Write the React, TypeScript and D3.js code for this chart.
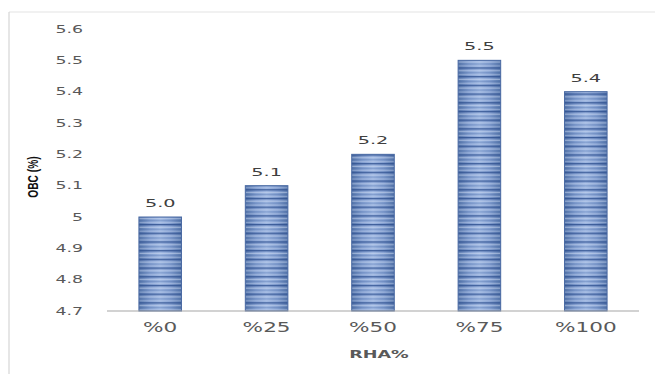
import React from "react";
import * as d3 from "d3";

// RHA replacement levels and optimum binder content
const categories = ["%0", "%25", "%50", "%75", "%100"];
const obcValues = [5.0, 5.1, 5.2, 5.5, 5.4];
const valueLabels = ["5.0", "5.1", "5.2", "5.5", "5.4"];
const yTicks = [4.7, 4.8, 4.9, 5.0, 5.1, 5.2, 5.3, 5.4, 5.5, 5.6];
const yTickLabels = ["4.7", "4.8", "4.9", "5", "5.1", "5.2", "5.3", "5.4", "5.5", "5.6"];

const W = 655;
const H = 374;
const STRETCH = 1.65;

export default function App() {
  const x = d3
    .scaleBand<string>()
    .domain(categories)
    .range([107, 639])
    .paddingInner(0.6)
    .paddingOuter(0.3);
  const y = d3.scaleLinear().domain([4.7, 5.6]).range([311, 29]);
  const base = y(4.7);

  return (
    <svg
      width={W}
      height={H}
      style={{ position: "absolute", left: 0, top: 0, background: "#fff" }}
    >
      <defs>
        <linearGradient id="barGrad" x1="0" x2="1" y1="0" y2="0">
          <stop offset="0" stopColor="#5474a9" />
          <stop offset="0.25" stopColor="#819dcf" />
          <stop offset="0.5" stopColor="#9cb5e0" />
          <stop offset="0.75" stopColor="#819dcf" />
          <stop offset="1" stopColor="#5474a9" />
        </linearGradient>
        <pattern
          id="stripes"
          patternUnits="userSpaceOnUse"
          width="10"
          height="8.7"
          y={base}
        >
          <rect x="0" y="0" width="10" height="1.3" fill="#2a4c8c" opacity="0.8" />
          <rect x="0" y="2.7" width="10" height="1.1" fill="#d8e3f5" opacity="0.5" />
          <rect x="0" y="4.8" width="10" height="0.8" fill="#3c5f9c" opacity="0.3" />
          <rect x="0" y="6.7" width="10" height="1" fill="#c8d7ef" opacity="0.4" />
        </pattern>
      </defs>

      {/* outer frame */}
      <line x1={9} y1={12} x2={W} y2={12} stroke="#e3e3e3" strokeWidth={1.2} />
      <line x1={9} y1={12} x2={9} y2={H} stroke="#d6d6d6" strokeWidth={1.2} />

      {/* y tick labels */}
      {yTicks.map((t, i) => (
        <text
          key={t}
          transform={`translate(83,${y(t)}) scale(${STRETCH},1)`}
          textAnchor="end"
          dy="0.36em"
          fontFamily="DejaVu Sans"
          fontSize={10.5}
          fill="#595959"
        >
          {yTickLabels[i]}
        </text>
      ))}

      {/* bars */}
      {categories.map((c, i) => {
        const bx = x(c)!;
        const top = y(obcValues[i]);
        return (
          <g key={c}>
            <rect
              x={bx}
              y={top}
              width={x.bandwidth()}
              height={base - top}
              fill="url(#barGrad)"
            />
            <rect
              x={bx}
              y={top}
              width={x.bandwidth()}
              height={base - top}
              fill="url(#stripes)"
              stroke="#4a6aa3"
              strokeWidth={1}
            />
            <text
              transform={`translate(${bx + x.bandwidth() / 2},${top - 10}) scale(1.75,1)`}
              textAnchor="middle"
              fontFamily="DejaVu Sans"
              fontSize={11}
              fill="#404040"
            >
              {valueLabels[i]}
            </text>
          </g>
        );
      })}

      {/* x axis */}
      <line x1={107} y1={base} x2={639} y2={base} stroke="#a6a6a6" strokeWidth={1.2} />
      {categories.map((c) => (
        <text
          key={c}
          transform={`translate(${x(c)! + x.bandwidth() / 2},332) scale(1.6,1)`}
          textAnchor="middle"
          fontFamily="DejaVu Sans"
          fontSize={13.5}
          fill="#595959"
        >
          {c}
        </text>
      ))}

      {/* axis titles */}
      <text
        transform={`translate(379,358) scale(1.6,1)`}
        textAnchor="middle"
        fontFamily="DejaVu Sans"
        fontWeight="bold"
        fontSize={11}
        fill="#595959"
      >
        RHA%
      </text>
      <text
        transform="translate(37.5,177) rotate(-90) scale(0.68,1)"
        textAnchor="middle"
        fontFamily="Liberation Sans"
        fontWeight="bold"
        fontSize={15}
        fill="#111"
      >
        OBC (%)
      </text>
    </svg>
  );
}
